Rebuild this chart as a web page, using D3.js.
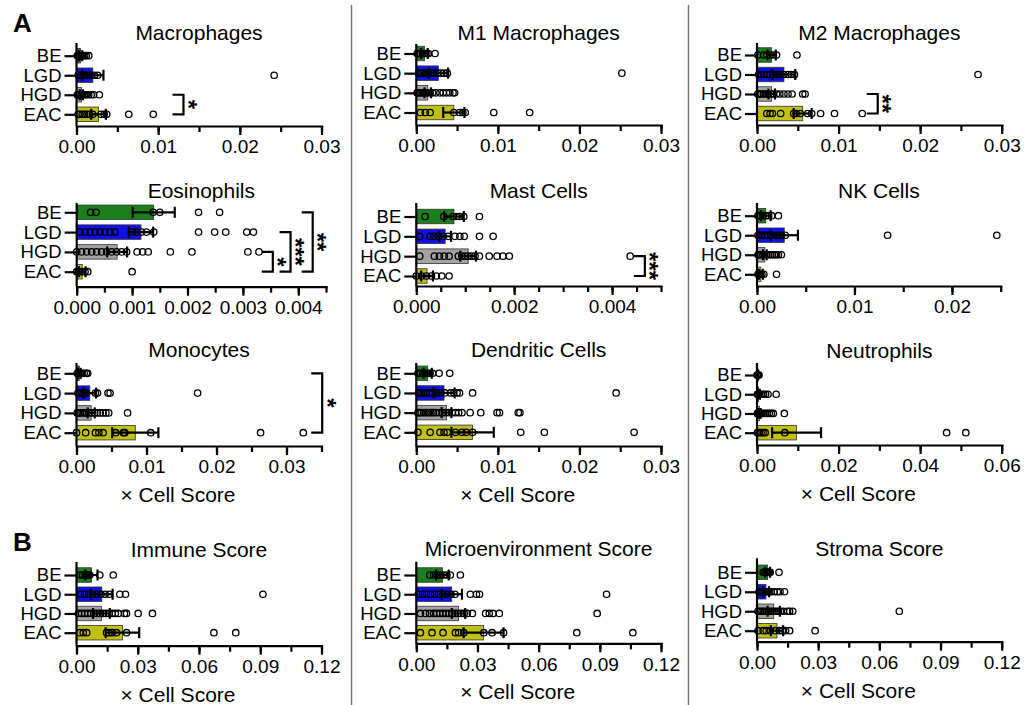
<!DOCTYPE html>
<html>
<head>
<meta charset="utf-8">
<script src="https://cdn.jsdelivr.net/npm/d3@7"></script>
<style>
  body { margin: 0; background: #fff; }
  svg { font-family: "Liberation Sans", Arial, sans-serif; }
</style>
</head>
<body>
<svg id="chart" width="1032" height="705"></svg>
<script>
/* ---------------- DATA ---------------- */
const groups = ["BE", "LGD", "HGD", "EAC"];
const groupColors = ["#1b7f1b", "#1010ee", "#a3a3a3", "#c0c010"];

const macroMean = [0.0005, 0.0020, 0.0006, 0.0027];
const macroSem = [0.0002, 0.0013, 0.0002, 0.0009];
const macroPoints = [
  [0.0001, 0.0002, 0.0003, 0.0004, 0.0006, 0.0008, 0.0010, 0.0012, 0.0015],
  [0.0002, 0.0005, 0.0008, 0.0010, 0.0012, 0.0015, 0.0018, 0.0022, 0.0026, 0.0242],
  [0.0001, 0.0002, 0.0003, 0.0004, 0.0006, 0.0008, 0.0010, 0.0012, 0.0015, 0.0018, 0.0021, 0.0028],
  [0.0002, 0.0004, 0.0007, 0.0010, 0.0013, 0.0016, 0.0020, 0.0030, 0.0034, 0.0037, 0.0064, 0.0094]
];

const m1Mean = [0.0010, 0.0027, 0.0014, 0.0046];
const m1Sem = [0.0004, 0.0012, 0.0004, 0.0013];
const m1Points = [
  [0.0001, 0.0003, 0.0005, 0.0008, 0.0011, 0.0013, 0.0015, 0.0023],
  [0.0003, 0.0006, 0.0009, 0.0012, 0.0015, 0.0018, 0.0022, 0.0026, 0.0030, 0.0034, 0.0038, 0.0252],
  [0.0001, 0.0002, 0.0004, 0.0006, 0.0008, 0.0010, 0.0012, 0.0014, 0.0017, 0.0020, 0.0024, 0.0029, 0.0033, 0.0037, 0.0041, 0.0045, 0.0047],
  [0.0005, 0.0011, 0.0017, 0.0046, 0.0053, 0.0057, 0.0060, 0.0095, 0.0139]
];

const m2Mean = [0.0018, 0.0033, 0.0018, 0.0056];
const m2Sem = [0.0005, 0.0014, 0.0004, 0.0011];
const m2Points = [
  [0.0001, 0.0008, 0.0012, 0.0016, 0.0020, 0.0024, 0.0049],
  [0.0002, 0.0005, 0.0008, 0.0012, 0.0016, 0.0020, 0.0024, 0.0028, 0.0033, 0.0038, 0.0042, 0.0046, 0.0271],
  [0.0001, 0.0003, 0.0005, 0.0008, 0.0011, 0.0014, 0.0017, 0.0020, 0.0024, 0.0028, 0.0033, 0.0038, 0.0043, 0.0056, 0.0059],
  [0.0012, 0.0016, 0.0019, 0.0029, 0.0045, 0.0048, 0.0053, 0.0062, 0.0067, 0.0078, 0.0095, 0.0129]
];

const eosMean = [0.00139, 0.00116, 0.00073, 0.00010];
const eosSem = [0.00038, 0.00022, 0.00018, 0.00006];
const eosPoints = [
  [0.00025, 0.00035, 0.00138, 0.00150, 0.00220, 0.00258],
  [0.00006, 0.00015, 0.00024, 0.00033, 0.00042, 0.00051, 0.00060, 0.00069, 0.00100, 0.00108, 0.00117, 0.00126, 0.00139, 0.00220, 0.00249, 0.00269, 0.00307, 0.00319],
  [0.00000, 0.00009, 0.00018, 0.00027, 0.00036, 0.00045, 0.00054, 0.00063, 0.00072, 0.00081, 0.00090, 0.00109, 0.00119, 0.00129, 0.00169, 0.00208, 0.00309, 0.00329],
  [0.00000, 0.00003, 0.00006, 0.00010, 0.00015, 0.00020, 0.00100]
];

const mastMean = [0.00077, 0.00059, 0.00106, 0.00022];
const mastSem = [0.00020, 0.00012, 0.00016, 0.00012];
const mastPoints = [
  [0.00018, 0.00056, 0.00075, 0.00082, 0.00088, 0.00097, 0.00129],
  [0.00007, 0.00028, 0.00036, 0.00045, 0.00055, 0.00065, 0.00079, 0.00089, 0.00098, 0.00129, 0.00157],
  [0.00007, 0.00037, 0.00047, 0.00057, 0.00067, 0.00086, 0.00093, 0.00100, 0.00106, 0.00113, 0.00120, 0.00129, 0.00149, 0.00165, 0.00177, 0.00190, 0.00437],
  [0.00000, 0.00011, 0.00021, 0.00031, 0.00041, 0.00052, 0.00067]
];

const nkMean = [0.0009, 0.0028, 0.0008, 0.0004];
const nkSem = [0.0005, 0.0014, 0.0002, 0.0002];
const nkPoints = [
  [0.0001, 0.0003, 0.0006, 0.0009, 0.0012, 0.0015, 0.0022],
  [0.0001, 0.0003, 0.0005, 0.0008, 0.0011, 0.0014, 0.0017, 0.0021, 0.0025, 0.0029, 0.0134, 0.0246],
  [0.0001, 0.0002, 0.0004, 0.0006, 0.0008, 0.0010, 0.0012, 0.0014, 0.0016, 0.0018, 0.0020, 0.0022, 0.0025],
  [0.0001, 0.0002, 0.0003, 0.0005, 0.0007, 0.0020]
];

const monoMean = [0.0004, 0.0019, 0.0021, 0.0084];
const monoSem = [0.0002, 0.0009, 0.0005, 0.0033];
const monoPoints = [
  [0.0001, 0.0003, 0.0005, 0.0008, 0.0011, 0.0014, 0.0016],
  [0.0002, 0.0005, 0.0008, 0.0011, 0.0014, 0.0027, 0.0030, 0.0045, 0.0048, 0.0173],
  [0.0001, 0.0003, 0.0005, 0.0008, 0.0011, 0.0014, 0.0018, 0.0022, 0.0026, 0.0030, 0.0034, 0.0038, 0.0042, 0.0046, 0.0073],
  [0.0000, 0.0013, 0.0027, 0.0032, 0.0038, 0.0056, 0.0067, 0.0069, 0.0106, 0.0263, 0.0324]
];

const dendMean = [0.0014, 0.0034, 0.0037, 0.0069];
const dendSem = [0.0005, 0.0013, 0.0006, 0.0026];
const dendPoints = [
  [0.0002, 0.0005, 0.0008, 0.0011, 0.0014, 0.0017, 0.0020, 0.0028, 0.0041],
  [0.0003, 0.0006, 0.0009, 0.0012, 0.0016, 0.0020, 0.0025, 0.0030, 0.0035, 0.0042, 0.0046, 0.0050, 0.0053, 0.0069, 0.0245],
  [0.0002, 0.0004, 0.0006, 0.0009, 0.0012, 0.0015, 0.0018, 0.0021, 0.0024, 0.0028, 0.0032, 0.0036, 0.0040, 0.0044, 0.0048, 0.0052, 0.0056, 0.0066, 0.0079, 0.0099, 0.0102, 0.0125, 0.0127],
  [0.0002, 0.0017, 0.0029, 0.0034, 0.0038, 0.0048, 0.0056, 0.0061, 0.0069, 0.0128, 0.0157, 0.0267]
];

const neutMean = [0.0002, 0.0004, 0.0006, 0.0097];
const neutSem = [0.0001, 0.0003, 0.0003, 0.0060];
const neutPoints = [
  [0.0000, 0.0001, 0.0002, 0.0003, 0.0005],
  [0.0001, 0.0002, 0.0004, 0.0007, 0.0011, 0.0016, 0.0021, 0.0027, 0.0047],
  [0.0001, 0.0002, 0.0004, 0.0006, 0.0009, 0.0012, 0.0016, 0.0020, 0.0025, 0.0030, 0.0035, 0.0040, 0.0067],
  [0.0001, 0.0005, 0.0010, 0.0015, 0.0020, 0.0068, 0.0465, 0.0512]
];

const immuneMean = [0.0073, 0.0124, 0.0122, 0.0225];
const immuneSem = [0.0030, 0.0053, 0.0041, 0.0082];
const immunePoints = [
  [0.0016, 0.0030, 0.0042, 0.0050, 0.0057, 0.0065, 0.0114, 0.0180],
  [0.0020, 0.0040, 0.0060, 0.0080, 0.0100, 0.0120, 0.0140, 0.0160, 0.0212, 0.0240, 0.0913],
  [0.0010, 0.0025, 0.0040, 0.0055, 0.0070, 0.0085, 0.0100, 0.0115, 0.0130, 0.0145, 0.0160, 0.0175, 0.0190, 0.0205, 0.0235, 0.0245, 0.0302, 0.0372],
  [0.0016, 0.0033, 0.0050, 0.0147, 0.0160, 0.0175, 0.0196, 0.0245, 0.0673, 0.0780]
];

const microMean = [0.0128, 0.0174, 0.0207, 0.0330];
const microSem = [0.0031, 0.0050, 0.0033, 0.0098];
const microPoints = [
  [0.0066, 0.0085, 0.0102, 0.0118, 0.0134, 0.0150, 0.0167, 0.0216],
  [0.0010, 0.0030, 0.0050, 0.0070, 0.0090, 0.0110, 0.0130, 0.0150, 0.0170, 0.0190, 0.0265, 0.0295, 0.0310, 0.0933],
  [0.0020, 0.0045, 0.0065, 0.0085, 0.0100, 0.0115, 0.0130, 0.0145, 0.0160, 0.0175, 0.0190, 0.0205, 0.0220, 0.0235, 0.0250, 0.0275, 0.0340, 0.0358, 0.0376, 0.0407, 0.0887],
  [0.0020, 0.0077, 0.0131, 0.0192, 0.0208, 0.0233, 0.0331, 0.0372, 0.0428, 0.0787, 0.1062]
];

const stromaMean = [0.0052, 0.0044, 0.0082, 0.0098];
const stromaSem = [0.0012, 0.0015, 0.0030, 0.0030];
const stromaPoints = [
  [0.0030, 0.0038, 0.0045, 0.0050, 0.0055, 0.0060, 0.0065, 0.0108],
  [0.0010, 0.0020, 0.0030, 0.0040, 0.0050, 0.0060, 0.0070, 0.0085, 0.0100, 0.0113, 0.0135],
  [0.0005, 0.0015, 0.0025, 0.0035, 0.0045, 0.0055, 0.0065, 0.0075, 0.0085, 0.0095, 0.0105, 0.0115, 0.0130, 0.0150, 0.0160, 0.0175, 0.0698],
  [0.0005, 0.0030, 0.0045, 0.0065, 0.0090, 0.0110, 0.0125, 0.0140, 0.0160, 0.0285]
];

/* significance brackets: x position in data units */
const sigs = [
  { panel: "Macrophages", from: "HGD", to: "EAC", at: 0.0131, label: "*" },
  { panel: "M2 Macrophages", from: "HGD", to: "EAC", at: 0.0148, label: "**" },
  { panel: "Eosinophils", from: "HGD", to: "EAC", at: 0.00354, label: "*" },
  { panel: "Eosinophils", from: "LGD", to: "EAC", at: 0.00386, label: "***" },
  { panel: "Eosinophils", from: "BE", to: "EAC", at: 0.00426, label: "**" },
  { panel: "Mast Cells", from: "HGD", to: "EAC", at: 0.00467, label: "***" },
  { panel: "Monocytes", from: "BE", to: "EAC", at: 0.0351, label: "*" }
];

/* ---------------- LAYOUT ---------------- */
const cols = [[76.5, 321.5], [416.3, 661], [757, 1001.7]];

const panels = [
  { title: "Macrophages", mean: macroMean, sem: macroSem, points: macroPoints, max: 0.03, minor: 0.005, major: 0.01, fmt: ".2f",
    x0: cols[0][0], x1: cols[0][1], titleY: 39.5, yFirst: 55.7, yLast: 114.3, axisTop: 43, axisY: 126 },
  { title: "M1 Macrophages", mean: m1Mean, sem: m1Sem, points: m1Points, max: 0.03, minor: 0.005, major: 0.01, fmt: ".2f",
    x0: cols[1][0], x1: cols[1][1], titleY: 39.5, yFirst: 53.5, yLast: 112.5, axisTop: 44, axisY: 125 },
  { title: "M2 Macrophages", mean: m2Mean, sem: m2Sem, points: m2Points, max: 0.03, minor: 0.005, major: 0.01, fmt: ".2f",
    x0: cols[2][0], x1: cols[2][1], titleY: 39.5, yFirst: 55, yLast: 113.5, axisTop: 43, axisY: 125 },
  { title: "Eosinophils", mean: eosMean, sem: eosSem, points: eosPoints, max: 0.0045, minor: 0.0005, major: 0.001, fmt: ".3f",
    x0: 76.7, x1: 326, titleY: 198, yFirst: 212.3, yLast: 271.7, axisTop: 203, axisY: 286.7 },
  { title: "Mast Cells", mean: mastMean, sem: mastSem, points: mastPoints, max: 0.005, minor: 0.0005, major: 0.002, fmt: ".3f",
    x0: cols[1][0], x1: cols[1][1], titleY: 197.5, yFirst: 216.5, yLast: 276, axisTop: 203, axisY: 286 },
  { title: "NK Cells", mean: nkMean, sem: nkSem, points: nkPoints, max: 0.025, minor: 0.005, major: 0.01, fmt: ".2f",
    x0: cols[2][0], x1: 1000.7, titleY: 197.5, yFirst: 215.7, yLast: 274.3, axisTop: 203, axisY: 286 },
  { title: "Monocytes", mean: monoMean, sem: monoSem, points: monoPoints, max: 0.035, minor: 0.005, major: 0.01, fmt: ".2f",
    x0: cols[0][0], x1: cols[0][1], titleY: 357, yFirst: 373.3, yLast: 432.7, axisTop: 363, axisY: 446, xlabel: true },
  { title: "Dendritic Cells", mean: dendMean, sem: dendSem, points: dendPoints, max: 0.03, minor: 0.005, major: 0.01, fmt: ".2f",
    x0: cols[1][0], x1: cols[1][1], titleY: 357, yFirst: 373.3, yLast: 432.3, axisTop: 363, axisY: 446, xlabel: true },
  { title: "Neutrophils", mean: neutMean, sem: neutSem, points: neutPoints, max: 0.06, minor: 0.01, major: 0.02, fmt: ".2f",
    x0: cols[2][0], x1: cols[2][1], titleY: 358.3, yFirst: 375, yLast: 432.7, axisTop: 363, axisY: 445, xlabel: true },
  { title: "Immune Score", mean: immuneMean, sem: immuneSem, points: immunePoints, max: 0.12, minor: 0.015, major: 0.03, fmt: ".2f",
    x0: cols[0][0], x1: cols[0][1], titleY: 556.7, yFirst: 575, yLast: 632.7, axisTop: 562, axisY: 645.7, xlabel: true },
  { title: "Microenvironment Score", mean: microMean, sem: microSem, points: microPoints, max: 0.12, minor: 0.015, major: 0.03, fmt: ".2f",
    x0: cols[1][0], x1: cols[1][1], titleY: 555.7, yFirst: 575, yLast: 632.7, axisTop: 561.7, axisY: 643.3, xlabel: true },
  { title: "Stroma Score", mean: stromaMean, sem: stromaSem, points: stromaPoints, max: 0.12, minor: 0.015, major: 0.03, fmt: ".2f",
    x0: cols[2][0], x1: cols[2][1], titleY: 555.7, yFirst: 572.3, yLast: 630.7, axisTop: 558.3, axisY: 641.7, xlabel: true }
];

const svg = d3.select("#chart");

/* ---------------- HELPERS ---------------- */
function tickList(max, step) {
  const n = Math.floor(max / step + 1e-6) + 1;
  return d3.range(n).map(i => i * step);
}

function styleAxis(sel, fontSize) {
  sel.attr("font-family", null).attr("font-size", null);
  sel.selectAll("line, path").attr("stroke", "#000").attr("stroke-width", 2.2);
  sel.selectAll("text").attr("fill", "#000").attr("font-size", fontSize);
}

/* ---------------- PANEL ---------------- */
function drawPanel(p) {
  const g = svg.append("g");

  const x = d3.scaleLinear().domain([0, p.max]).range([p.x0, p.x1]);
  const y = d3.scalePoint().domain(groups).range([p.yFirst, p.yLast]);
  const barH = 14.5;

  g.append("text")
    .attr("x", (p.x0 + p.x1) / 2)
    .attr("y", p.titleY)
    .attr("text-anchor", "middle")
    .attr("font-size", 21)
    .text(p.title);

  // bars
  g.selectAll("rect.bar")
    .data(groups)
    .join("rect")
    .attr("class", "bar")
    .attr("x", x(0))
    .attr("y", d => y(d) - barH / 2)
    .attr("width", (d, i) => x(p.mean[i]) - x(0))
    .attr("height", barH)
    .attr("fill", (d, i) => groupColors[i])
    .attr("stroke", "#333")
    .attr("stroke-width", 0.8);

  // individual points
  const pts = p.points.flatMap((arr, i) => arr.map(v => ({ g: groups[i], v })));
  g.selectAll("circle")
    .data(pts)
    .join("circle")
    .attr("cx", d => x(d.v))
    .attr("cy", d => y(d.g))
    .attr("r", 3.2)
    .attr("fill", "none")
    .attr("stroke", "#000")
    .attr("stroke-width", 1.3);

  // mean +/- sem
  const err = groups.map((d, i) => ({
    g: d,
    lo: Math.max(0, p.mean[i] - p.sem[i]),
    hi: p.mean[i] + p.sem[i]
  }));
  const eb = g.append("g").attr("stroke", "#000").attr("stroke-width", 2.2);
  eb.selectAll("line.span")
    .data(err)
    .join("line")
    .attr("class", "span")
    .attr("x1", d => x(d.lo))
    .attr("x2", d => x(d.hi))
    .attr("y1", d => y(d.g))
    .attr("y2", d => y(d.g));
  eb.selectAll("line.cap")
    .data(err.flatMap(d => [{ g: d.g, v: d.lo }, { g: d.g, v: d.hi }]))
    .join("line")
    .attr("class", "cap")
    .attr("x1", d => x(d.v))
    .attr("x2", d => x(d.v))
    .attr("y1", d => y(d.g) - 5.5)
    .attr("y2", d => y(d.g) + 5.5);

  // x axis: minor ticks, then major ticks with labels
  const minorAxis = g.append("g")
    .attr("transform", `translate(0,${p.axisY})`)
    .call(d3.axisBottom(x).tickValues(tickList(p.max, p.minor)).tickSize(6).tickFormat(""));
  minorAxis.select(".domain").remove();
  styleAxis(minorAxis, 19);

  const majorAxis = g.append("g")
    .attr("transform", `translate(0,${p.axisY})`)
    .call(d3.axisBottom(x)
      .tickValues(tickList(p.max, p.major))
      .tickSize(9)
      .tickSizeOuter(0)
      .tickPadding(5)
      .tickFormat(d3.format(p.fmt)));
  styleAxis(majorAxis, 19);
  majorAxis.select(".domain").attr("stroke-linecap", "square");

  // category axis
  const yAxis = g.append("g")
    .attr("transform", `translate(${x(0)},0)`)
    .call(d3.axisLeft(y).tickSize(12).tickPadding(3));
  yAxis.select(".domain").remove();
  styleAxis(yAxis, 18.5);

  g.append("line")
    .attr("x1", x(0)).attr("x2", x(0))
    .attr("y1", p.axisTop).attr("y2", p.axisY)
    .attr("stroke", "#000")
    .attr("stroke-width", 2.2);

  if (p.xlabel) {
    g.append("text")
      .attr("x", (p.x0 + p.x1) / 2 - 21)
      .attr("y", p.axisY + 56)
      .attr("text-anchor", "middle")
      .attr("font-size", 21)
      .text("\u00d7 Cell Score");
  }

  // significance brackets
  sigs.filter(s => s.panel === p.title).forEach(s => {
    const bx = x(s.at);
    const y1 = y(s.from), y2 = y(s.to);
    g.append("path")
      .attr("d", `M${bx - 11},${y1}H${bx}V${y2}H${bx - 11}`)
      .attr("fill", "none")
      .attr("stroke", "#000")
      .attr("stroke-width", 2.2);
    g.append("text")
      .attr("transform", `translate(${bx + 10},${(y1 + y2) / 2}) rotate(90)`)
      .attr("text-anchor", "middle")
      .attr("dy", "0.57em")
      .attr("font-size", 24)
      .attr("font-weight", "bold")
      .text(s.label);
  });
}

/* ---------------- MAIN ---------------- */
[351.5, 688.5].forEach(sx => {
  svg.append("line")
    .attr("x1", sx).attr("x2", sx)
    .attr("y1", 5).attr("y2", 705)
    .attr("stroke", "#7a7a7a")
    .attr("stroke-width", 1.5);
});

svg.append("text").attr("x", 13).attr("y", 32)
  .attr("font-size", 26).attr("font-weight", "bold").text("A");
svg.append("text").attr("x", 13).attr("y", 551)
  .attr("font-size", 26).attr("font-weight", "bold").text("B");

panels.forEach(drawPanel);
</script>
</body>
</html>
